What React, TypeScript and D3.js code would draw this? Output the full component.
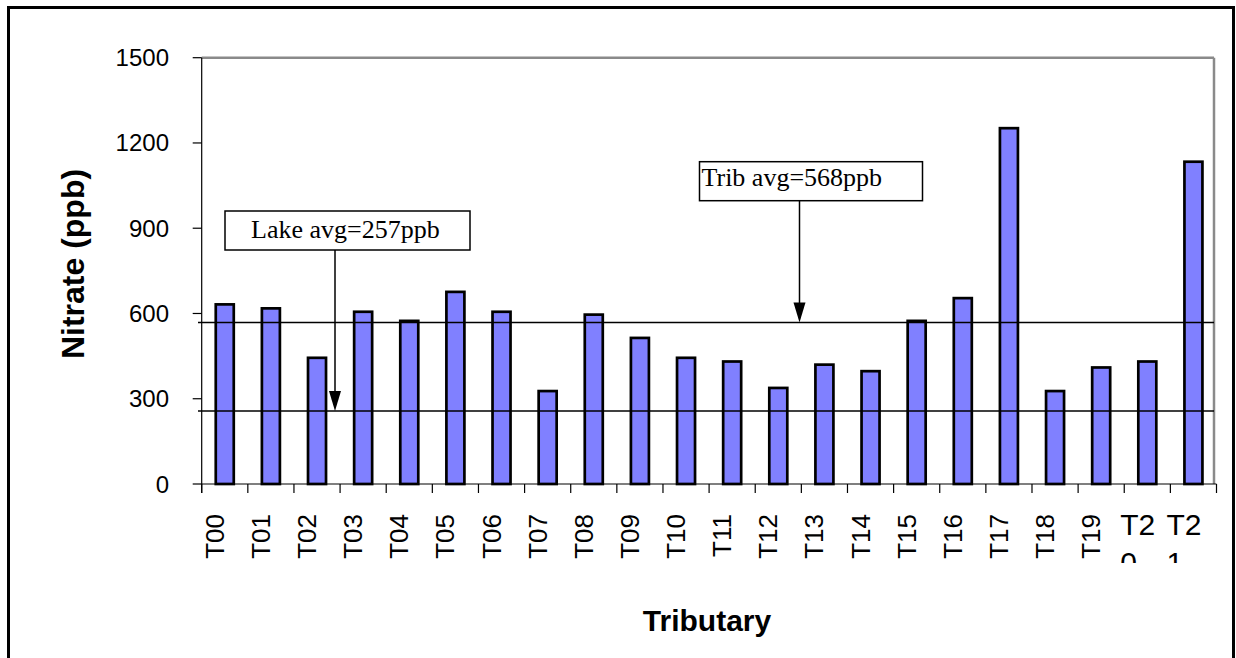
import React from "react";
import * as d3 from "d3";

const categories = ["T00","T01","T02","T03","T04","T05","T06","T07","T08","T09","T10","T11","T12","T13","T14","T15","T16","T17","T18","T19","T20","T21"];
const nitrate = [632, 618, 444, 606, 574, 676, 606, 327, 596, 514, 444, 431, 338, 420, 397, 574, 654, 1252, 327, 410, 431, 1134];
const yTicks = [0, 300, 600, 900, 1200, 1500];
const lakeAvg = 257;
const tribAvg = 568;
const lakeLabel = "Lake avg=257ppb";
const tribLabel = "Trib avg=568ppb";
const yTitle = "Nitrate (ppb)";
const xTitle = "Tributary";

const W = 1236, H = 658;
const left = 201.7, right = 1216.5, top = 57.7, bottom = 484;

export default function App() {
  const x = d3.scaleBand<string>().domain(categories).range([left, right]).padding(0);
  const y = d3.scaleLinear().domain([0, 1500]).range([bottom, top]);
  const bw = x.bandwidth();
  const barW = 18;
  const boundaries = d3.range(categories.length + 1).map((i) => left + i * x.step());
  const wrapped = (c: string) => c === "T20" || c === "T21";

  const arrow = (ax: number, y0: number, y1: number) => (
    <g>
      <line x1={ax} x2={ax} y1={y0} y2={y1 - 18} stroke="#000" strokeWidth={1.5} />
      <path d={`M${ax - 6},${y1 - 20} L${ax + 6},${y1 - 20} L${ax},${y1} Z`} fill="#000" />
    </g>
  );

  return (
    <svg width={W} height={H} style={{ position: "absolute", left: 0, top: 0, background: "#fff" }}
      fontFamily="Arial, 'Liberation Sans', sans-serif">
      <defs>
        <clipPath id="lblclip">
          <rect x={0} y={0} width={W} height={563} />
        </clipPath>
      </defs>
      {/* outer frame */}
      <rect x={8.5} y={7.5} width={1225} height={700} fill="none" stroke="#000" strokeWidth={3} />

      {/* plot area border (gray top/right) */}
      <line x1={left} x2={1214} y1={top} y2={top} stroke="#8a8a8a" strokeWidth={2.5} />
      <line x1={1214} x2={1214} y1={top} y2={bottom} stroke="#8a8a8a" strokeWidth={2.5} />

      {/* bars */}
      {categories.map((c, i) => (
        <rect key={c} x={(x(c) as number) + bw / 2 - barW / 2} y={y(nitrate[i])}
          width={barW} height={bottom - y(nitrate[i])}
          fill="#8080FF" stroke="#000" strokeWidth={2.7} />
      ))}

      {/* average lines */}
      <line x1={198} x2={1214} y1={y(tribAvg)} y2={y(tribAvg)} stroke="#000" strokeWidth={1.5} />
      <line x1={198} x2={1214} y1={y(lakeAvg)} y2={y(lakeAvg)} stroke="#000" strokeWidth={1.5} />

      {/* y axis */}
      <line x1={left} x2={left} y1={top} y2={bottom + 9} stroke="#000" strokeWidth={1.2} />
      {yTicks.map((t) => (
        <g key={t}>
          <line x1={left - 9} x2={left} y1={y(t)} y2={y(t)} stroke="#000" strokeWidth={1.2} />
          <text x={169} y={y(t) + 8.5} textAnchor="end" fontSize={24}>{t}</text>
        </g>
      ))}

      {/* x axis */}
      <line x1={left} x2={right} y1={bottom} y2={bottom} stroke="#000" strokeWidth={1.2} />
      {boundaries.map((bx, i) => (
        <line key={i} x1={bx} x2={bx} y1={bottom} y2={bottom + 9} stroke="#000" strokeWidth={1.2} />
      ))}
      <g clipPath="url(#lblclip)">
        {categories.map((c) => {
          const cx = (x(c) as number) + bw / 2;
          if (wrapped(c)) {
            return (
              <g key={c}>
                <text x={cx - 27} y={535} fontSize={30}>{c.slice(0, 2)}</text>
                <text x={cx - 27} y={573} fontSize={30}>{c.slice(2)}</text>
              </g>
            );
          }
          return (
            <text key={c} transform={`translate(${cx - 1},514) rotate(-90)`} textAnchor="end" fontSize={26}>{c}</text>
          );
        })}
      </g>

      {/* axis titles */}
      <text transform={`translate(83.5,264) rotate(-90)`} textAnchor="middle" fontSize={32} fontWeight="bold">{yTitle}</text>
      <text x={707} y={631} textAnchor="middle" fontSize={30} fontWeight="bold">{xTitle}</text>

      {/* annotations */}
      <rect x={225} y={211} width={245} height={39} fill="#fff" stroke="#000" strokeWidth={1.5} />
      <text x={251} y={238} fontSize={26} fontFamily="'Liberation Serif', 'Times New Roman', serif">{lakeLabel}</text>
      {arrow(335, 250, y(lakeAvg))}

      <rect x={699.5} y={161.7} width={223} height={39} fill="#fff" stroke="#000" strokeWidth={1.5} />
      <text x={701.5} y={186} fontSize={26} fontFamily="'Liberation Serif', 'Times New Roman', serif">{tribLabel}</text>
      {arrow(799.5, 200.7, y(tribAvg))}
    </svg>
  );
}
